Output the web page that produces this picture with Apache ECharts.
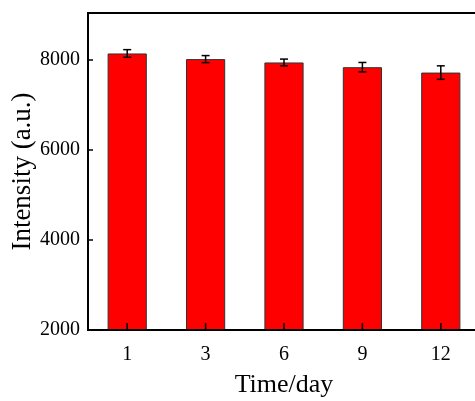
<!DOCTYPE html>
<html>
<head>
<meta charset="utf-8">
<script src="https://cdn.jsdelivr.net/npm/echarts@6/dist/echarts.min.js"></script>
<style>html,body{margin:0;padding:0;background:#fff;}#c{width:475px;height:401px;}</style>
</head>
<body>
<div id="c"></div>
<script>
var categories = ['1', '3', '6', '9', '12'];
var values = [8150, 8025, 7950, 7845, 7725];
var errors = [85, 78, 75, 105, 150];
var yTicks = [2000, 4000, 6000, 8000];

var font = 'Liberation Serif';
var chart = echarts.init(document.getElementById('c'));
var errData = categories.map(function (c, i) { return [i, values[i] - errors[i], values[i] + errors[i]]; });

chart.setOption({
  animation: false,
  grid: { left: 88, top: 13, width: 392, height: 317, outerBoundsMode: 'none', containLabel: false,
    show: true, borderColor: '#000', borderWidth: 2, backgroundColor: 'transparent' },
  xAxis: {
    type: 'category', data: categories, z: 10,
    name: 'Time/day', nameLocation: 'middle', nameGap: 42, nameMoveOverlap: false,
    nameTextStyle: { fontFamily: font, fontSize: 26, color: '#000' },
    axisLine: { lineStyle: { color: '#000', width: 2 } },
    axisTick: { inside: true, alignWithLabel: true, length: 6, lineStyle: { color: '#000', width: 1.5 } },
    axisLabel: { fontFamily: font, fontSize: 20, color: '#000', margin: 15 }
  },
  yAxis: {
    type: 'value', min: 2000, max: 9050, interval: 2000, z: 10,
    name: 'Intensity (a.u.)', nameLocation: 'middle', nameGap: 52, nameMoveOverlap: false,
    nameTextStyle: { fontFamily: font, fontSize: 27, color: '#000' },
    splitLine: { show: false },
    axisLine: { show: true, lineStyle: { color: '#000', width: 2 } },
    axisTick: { show: true, inside: true, length: 5, lineStyle: { color: '#000', width: 1.5 } },
    axisLabel: { fontFamily: font, fontSize: 20, color: '#000', margin: 8,
      formatter: function (v) { return yTicks.indexOf(v) >= 0 ? String(v) : ''; } }
  },
  series: [
    { type: 'bar', data: values, barWidth: '50%',
      itemStyle: { color: '#ff0000', borderColor: '#333', borderWidth: 1 } },
    { type: 'custom', z: 5, data: errData,
      renderItem: function (params, api) {
        var x = api.value(0);
        var lo = api.coord([x, api.value(1)]);
        var hi = api.coord([x, api.value(2)]);
        var base = api.coord([x, 2000]);
        var w = 4;
        var st = { stroke: '#000', lineWidth: 1.5 };
        return { type: 'group', children: [
          { type: 'line', shape: { x1: lo[0], y1: lo[1], x2: hi[0], y2: hi[1] }, style: st },
          { type: 'line', shape: { x1: lo[0] - w, y1: lo[1], x2: lo[0] + w, y2: lo[1] }, style: st },
          { type: 'line', shape: { x1: hi[0] - w, y1: hi[1], x2: hi[0] + w, y2: hi[1] }, style: st },
          { type: 'line', shape: { x1: base[0], y1: base[1], x2: base[0], y2: base[1] - 7 }, style: st }
        ] };
      }
    }
  ]
});
</script>
</body>
</html>
